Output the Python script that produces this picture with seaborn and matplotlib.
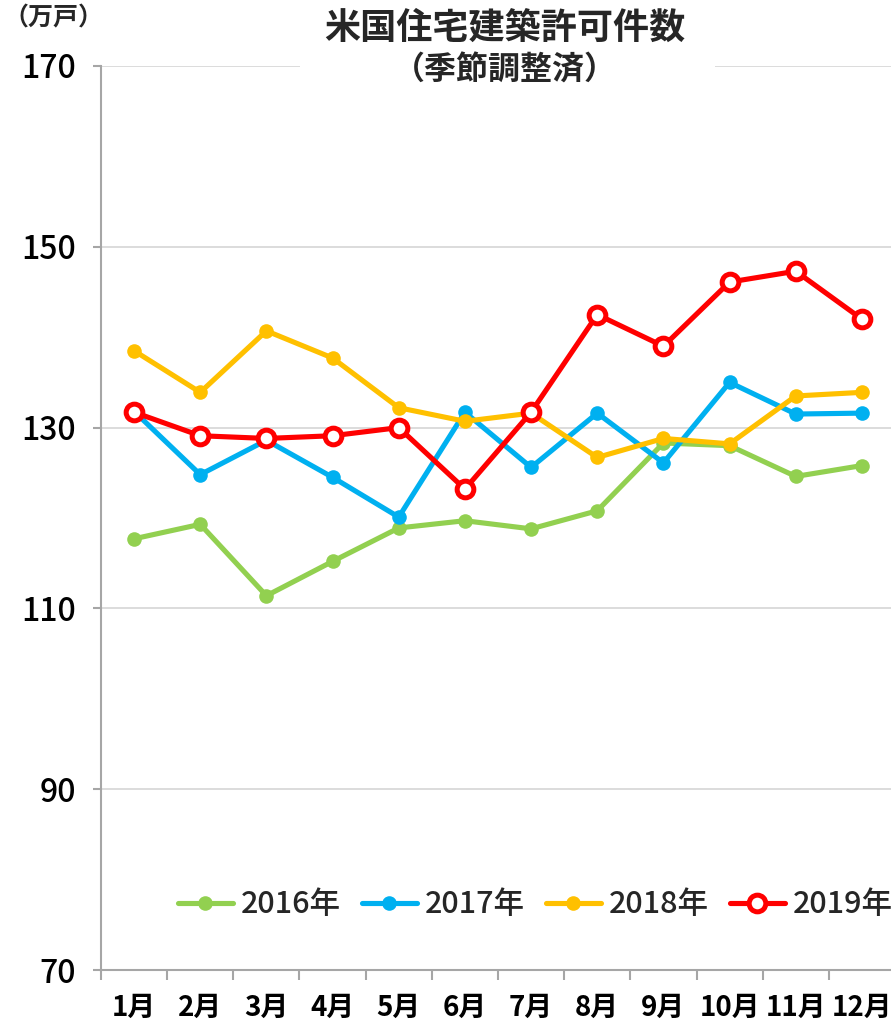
import matplotlib
matplotlib.use("Agg")
import matplotlib.pyplot as plt
import seaborn as sns
import pandas as pd
from matplotlib.patches import Rectangle
from matplotlib.ticker import FixedLocator

# ----------------- DATA -----------------
months = ["1月", "2月", "3月", "4月", "5月", "6月", "7月", "8月", "9月", "10月", "11月", "12月"]
permits_2016 = [117.7, 119.3, 111.4, 115.2, 118.9, 119.7, 118.8, 120.8, 128.3, 128.0, 124.6, 125.8]
permits_2017 = [131.8, 124.8, 128.6, 124.5, 120.1, 131.7, 125.6, 131.6, 126.1, 135.0, 131.5, 131.6]
permits_2018 = [138.5, 133.9, 140.7, 137.7, 132.2, 130.7, 131.6, 126.7, 128.8, 128.2, 133.5, 133.9]
permits_2019 = [131.7, 129.1, 128.8, 129.1, 130.0, 123.2, 131.7, 142.5, 139.0, 146.1, 147.3, 142.0]
years = ["2016年", "2017年", "2018年", "2019年"]
y_ticks = [70, 90, 110, 130, 150, 170]

title = "米国住宅建築許可件数"
subtitle = "（季節調整済）"
unit_label = "（万戸）"

colors = ["#92D050", "#00B0F0", "#FFC000", "#FF0000"]

# ----------------- STYLE -----------------
sns.set_style("white")
plt.rcParams["font.family"] = ["Noto Sans CJK JP", "DejaVu Sans"]

W, H = 891, 1022
fig = plt.figure(figsize=(W / 100, H / 100), dpi=100)
ax = fig.add_axes([101 / W, 52 / H, 794 / W, 904 / H])

series = [permits_2016, permits_2017, permits_2018, permits_2019]
for i, (yr, vals) in enumerate(zip(years, series)):
    df = pd.DataFrame({"month": months, "value": vals})
    if i < 3:
        sns.lineplot(data=df, x="month", y="value", ax=ax, sort=False, color=colors[i],
                     lw=3.7, marker="o", ms=10.5, mew=0, mfc=colors[i], label=yr, zorder=3 + i)
    else:
        sns.lineplot(data=df, x="month", y="value", ax=ax, sort=False, color=colors[i],
                     lw=3.7, marker="o", ms=12, mew=3.6, mec=colors[i], mfc="white",
                     label=yr, zorder=3 + i)

ax.set_xlim(-0.5, 11.5)
ax.set_ylim(70, 170)
ax.set_yticks(y_ticks)
ax.set_xlabel("")
ax.set_ylabel("")
ax.grid(axis="y", color="#D9D9D9", lw=1.3)
ax.grid(axis="x", visible=False)

for s in ["top", "right"]:
    ax.spines[s].set_visible(False)
for s in ["left", "bottom"]:
    ax.spines[s].set_color("#A6A6A6")
    ax.spines[s].set_linewidth(1.5)

ax.tick_params(axis="y", which="major", length=6, width=1.5, color="#A6A6A6",
               pad=12, labelsize=23, labelcolor="black", left=True)
ax.tick_params(axis="x", which="major", length=0, pad=17, labelsize=20, labelcolor="black")
ax.xaxis.set_minor_locator(FixedLocator([i - 0.5 for i in range(13)]))
ax.tick_params(axis="x", which="minor", length=7, width=1.5, color="#A6A6A6", bottom=True)
for lab in ax.get_xticklabels():
    lab.set_fontweight("bold")
for lab in ax.get_yticklabels():
    lab.set_fontweight("medium")

leg = ax.legend(loc="center right", bbox_to_anchor=(0.997, 0.072), ncol=4, frameon=False,
                prop={"size": 22, "weight": "medium"}, handlelength=1.8, handletextpad=0.25,
                columnspacing=0.7, borderaxespad=0, borderpad=0, numpoints=1)

# white block behind subtitle, cutting the top gridline
fig.patches.append(Rectangle((300 / W, 1 - 88 / H), 415 / W, 34 / H, transform=fig.transFigure,
                             facecolor="white", edgecolor="none", zorder=5))
fig.text(505 / W, 1 - 28 / H, title, ha="center", va="center", fontsize=26,
         fontweight="bold", zorder=6)
fig.text(505 / W, 1 - 71 / H, subtitle, ha="center", va="center", fontsize=23,
         fontweight="bold", zorder=6)
fig.text(3 / W, 1 - 18 / H, unit_label, ha="left", va="center", fontsize=18,
         fontweight="bold", zorder=6)

fig.savefig("out.png", dpi=100)
